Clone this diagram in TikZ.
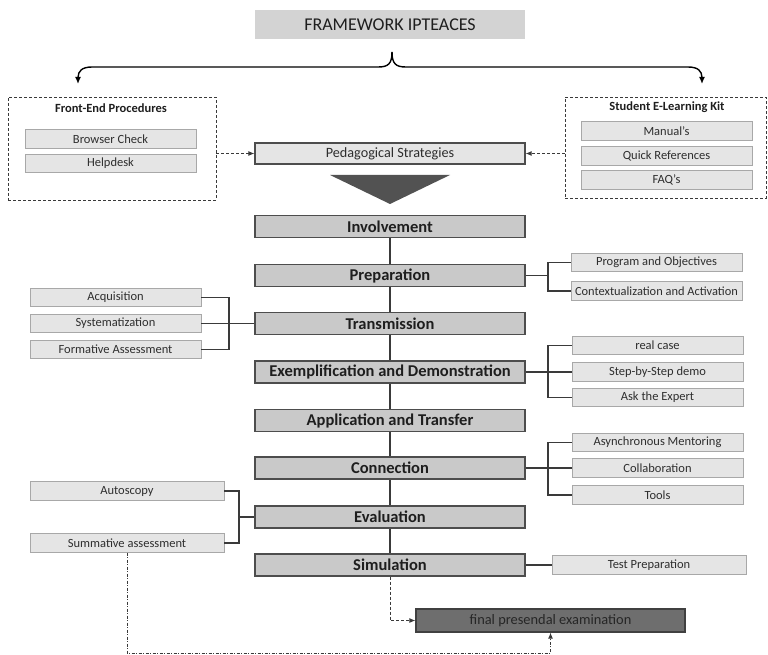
\documentclass[tikz,border=0pt]{standalone}
\usepackage{fontspec}
\setmainfont{Carlito}
\usetikzlibrary{arrows.meta}

\definecolor{stagefill}{HTML}{C9C9C9}
\definecolor{stageline}{HTML}{4D4D4D}
\definecolor{sidefill}{HTML}{E5E5E5}
\definecolor{sideline}{HTML}{A8A8A8}
\definecolor{titlefill}{HTML}{D3D3D3}
\definecolor{wire}{HTML}{3A3A3A}
\definecolor{textdark}{HTML}{1E1E1E}
\definecolor{textside}{HTML}{2E2E2E}
\definecolor{examfill}{HTML}{6E6E6E}

\begin{document}
\begin{tikzpicture}[x=1pt,y=-1pt,
  stage/.style={draw=stageline, fill=stagefill, line width=1.2pt,
    minimum width=270pt, minimum height=22pt, inner sep=0pt,
    text=textdark, font=\fontsize{16.5}{18}\selectfont\bfseries},
  side/.style={draw=sideline, fill=sidefill, line width=0.8pt,
    minimum width=171pt, minimum height=18.5pt, inner sep=0pt,
    text=textside, font=\fontsize{12.5}{14}\selectfont},
  wideside/.style={side, minimum width=194pt},
  groupbox/.style={draw=wire, line width=0.9pt, dash pattern=on 3pt off 2pt,
    inner sep=0pt},
  grouptitle/.style={text=textdark, font=\fontsize{12.5}{14}\selectfont\bfseries},
  link/.style={draw=wire, line width=1.2pt},
  dashlink/.style={draw=wire, line width=0.9pt, dash pattern=on 3pt off 2pt,
    -{Latex[length=6pt,width=5pt]}},
  dotlink/.style={draw=wire, line width=0.9pt, dash pattern=on 3pt off 1.5pt on 1pt off 1.5pt,
    -{Latex[length=6pt,width=5pt]}},
  bracearrow/.style={draw=black, line width=1.4pt, -{Latex[length=7pt,width=6pt]}}
]
\useasboundingbox (0,0) rectangle (768,655);

% title and brace
\node[fill=titlefill, minimum width=270pt, minimum height=29pt, inner sep=0pt,
  text=textdark, font=\fontsize{18}{20}\selectfont] (title) at (390,24.5) {FRAMEWORK IPTEACES};
\coordinate (cusp) at (392,52);
\coordinate (feTip) at (78,84);
\coordinate (kitTip) at (702,84);
\draw[bracearrow] (cusp) .. controls (392,64) and (388,67) .. (378,67) -- (92,67)
  .. controls (82,67) and (78,71) .. (feTip);
\draw[bracearrow] (cusp) .. controls (392,64) and (396,67) .. (406,67) -- (688,67)
  .. controls (698,67) and (702,71) .. (kitTip);

% front-end procedures
\node[groupbox, minimum width=208pt, minimum height=103pt] (fe) at (112,148.5) {};
\node[grouptitle] (feTitle) at (111,108.5) {Front-End Procedures};
\node[side] (browser) at (110.5,139) {Browser Check};
\node[side] (help) at (110.5,163.5) {Helpdesk};

% student e-learning kit
\node[groupbox, minimum width=201pt, minimum height=101pt] (kit) at (665.5,147.5) {};
\node[grouptitle] (kitTitle) at (667,107.5) {Student E-Learning Kit};
\node[side] (manual) at (666.5,131) {Manual’s};
\node[side] (quick) at (666.5,156) {Quick References};
\node[side] (faq) at (666.5,180) {FAQ’s};

% pedagogical strategies
\node[draw=stageline, fill=sidefill, line width=1.2pt, minimum width=270pt,
  minimum height=21pt, inner sep=0pt, text=textside,
  font=\fontsize{14.2}{16}\selectfont] (ped) at (390,153.5) {Pedagogical Strategies};
\draw[dashlink] (fe.east |- ped.west) -- (ped.west);
\draw[dashlink] (kit.west |- ped.east) -- (ped.east);
\fill[fill=black!68] (330,175) -- (450,175) -- (390,204) -- cycle;

% main stages
\node[stage] (inv)   at (390,226.5) {Involvement};
\node[stage] (prep)  at (390,275.5) {Preparation};
\node[stage] (trans) at (390,323.5) {Transmission};
\node[stage] (exem)  at (390,372)   {Exemplification and Demonstration};
\node[stage] (appl)  at (390,420.5) {Application and Transfer};
\node[stage] (conn)  at (390,468)   {Connection};
\node[stage] (eval)  at (390,517)   {Evaluation};
\node[stage] (sim)   at (390,565)   {Simulation};
\draw[link] (inv) -- (prep) -- (trans) -- (exem) -- (appl) -- (conn) -- (eval) -- (sim);
\node[stage] at (390,226.5) {Involvement};
\node[stage] at (390,275.5) {Preparation};
\node[stage] at (390,323.5) {Transmission};
\node[stage] at (390,372)   {Exemplification and Demonstration};
\node[stage] at (390,420.5) {Application and Transfer};
\node[stage] at (390,468)   {Connection};
\node[stage] at (390,517)   {Evaluation};
\node[stage] at (390,565)   {Simulation};

% preparation branches
\node[side] (prog) at (656.5,262.5) {Program and Objectives};
\node[side, font=\fontsize{12.4}{14}\selectfont] (ctx) at (656.5,291) {Contextualization and Activation};
\coordinate (bPrep) at (548,275.5);
\draw[link] (prep.east) -- (bPrep);
\draw[link] (prog.west) -| (bPrep) |- (ctx.west);

% transmission branches
\node[side] (acq) at (115.5,297.5) {Acquisition};
\node[side] (sys) at (115.5,323.5) {Systematization};
\node[side] (fa)  at (115.5,349.5) {Formative Assessment};
\coordinate (bTrans) at (229,323.5);
\draw[link] (sys.east) -- (trans.west);
\draw[link] (acq.east) -| (bTrans) |- (fa.east);

% exemplification branches
\node[side] (real) at (657.5,345.5) {real case};
\node[side] (step) at (657.5,372)   {Step-by-Step demo};
\node[side] (ask)  at (657.5,397.5) {Ask the Expert};
\coordinate (bExem) at (548,372);
\draw[link] (exem.east) -- (step.west);
\draw[link] (real.west) -| (bExem) |- (ask.west);

% connection branches
\node[side] (async)  at (657.5,442.5) {Asynchronous Mentoring};
\node[side] (collab) at (657.5,468)   {Collaboration};
\node[side] (tools)  at (657.5,495)   {Tools};
\coordinate (bConn) at (548,468);
\draw[link] (conn.east) -- (collab.west);
\draw[link] (async.west) -| (bConn) |- (tools.west);

% evaluation branches
\node[wideside] (auto) at (127,491) {Autoscopy};
\node[wideside] (summ) at (127,543) {Summative assessment};
\coordinate (bEval) at (239,517);
\draw[link] (bEval) -- (eval.west);
\draw[link] (auto.east) -| (bEval) |- (summ.east);

% simulation branch
\node[wideside] (test) at (649,565) {Test Preparation};
\draw[link] (sim.east) -- (test.west);

% final examination
\node[draw=black!75, fill=examfill, line width=1.2pt, minimum width=269pt,
  minimum height=23pt, inner sep=0pt, text=black!85,
  font=\fontsize{14.4}{16}\selectfont] (final) at (550.5,620.5) {final presendal examination};
\draw[dashlink] (sim.south) |- (final.west);
\coordinate (bottom) at (550.5,653);
\draw[dotlink] (summ.south) |- (bottom) -- (final.south);
\end{tikzpicture}
\end{document}
